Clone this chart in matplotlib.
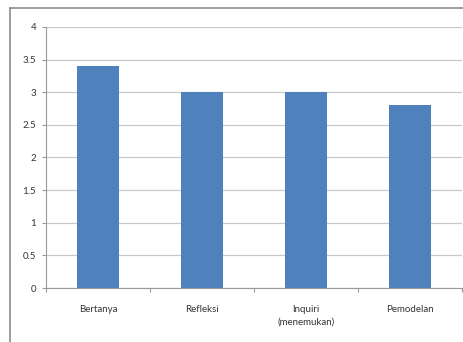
import matplotlib
matplotlib.use("Agg")
import matplotlib.pyplot as plt
import numpy as np
from matplotlib.lines import Line2D

categories = ["Bertanya", "Refleksi", "Inquiri\n(menemukan)", "Pemodelan"]
values = [3.4, 3.0, 3.0, 2.8]
yticks = [0, 0.5, 1, 1.5, 2, 2.5, 3, 3.5, 4]
ylabels = ["0", "0.5", "1", "1.5", "2", "2.5", "3", "3.5", "4"]

plt.rcParams['font.family'] = ['Lato', 'DejaVu Sans']

fig = plt.figure(figsize=(4.64, 3.42), dpi=100)
ax = fig.add_axes([46/464, 1-288/342, 416/464, 261/342])

x = np.arange(len(categories))
ax.bar(x, values, width=0.4, color="#4F81BD", zorder=3)

ax.set_xlim(-0.5, len(categories) - 0.5)
ax.set_ylim(0, 4)
ax.set_yticks(yticks)
ax.set_yticklabels(ylabels, fontsize=7, color="#333333")
ax.set_xticks(x)
ax.set_xticklabels(categories, fontsize=7, color="#333333", linespacing=1.5)
ax.set_xticks(np.arange(-0.5, len(categories)), minor=True)
ax.tick_params(axis="x", which="major", length=0, pad=12)
ax.tick_params(axis="x", which="minor", length=3, color="#999999", width=0.8)
ax.tick_params(axis="y", length=3, color="#999999", width=0.8, pad=4)

ax.yaxis.grid(True, color="#C8C8C8", linewidth=0.9, zorder=0)
for s in ["top", "right"]:
    ax.spines[s].set_visible(False)
ax.spines["left"].set_color("#999999")
ax.spines["bottom"].set_color("#999999")
ax.spines["left"].set_linewidth(0.8)
ax.spines["bottom"].set_linewidth(0.8)

# outer chart border (cropped on right and bottom)
fig.add_artist(Line2D([10/464, 1], [1-8/342, 1-8/342], transform=fig.transFigure, color="#8C8C8C", linewidth=1.2))
fig.add_artist(Line2D([10/464, 10/464], [0, 1-8/342], transform=fig.transFigure, color="#8C8C8C", linewidth=1.2))

fig.savefig("out.png", dpi=100)
